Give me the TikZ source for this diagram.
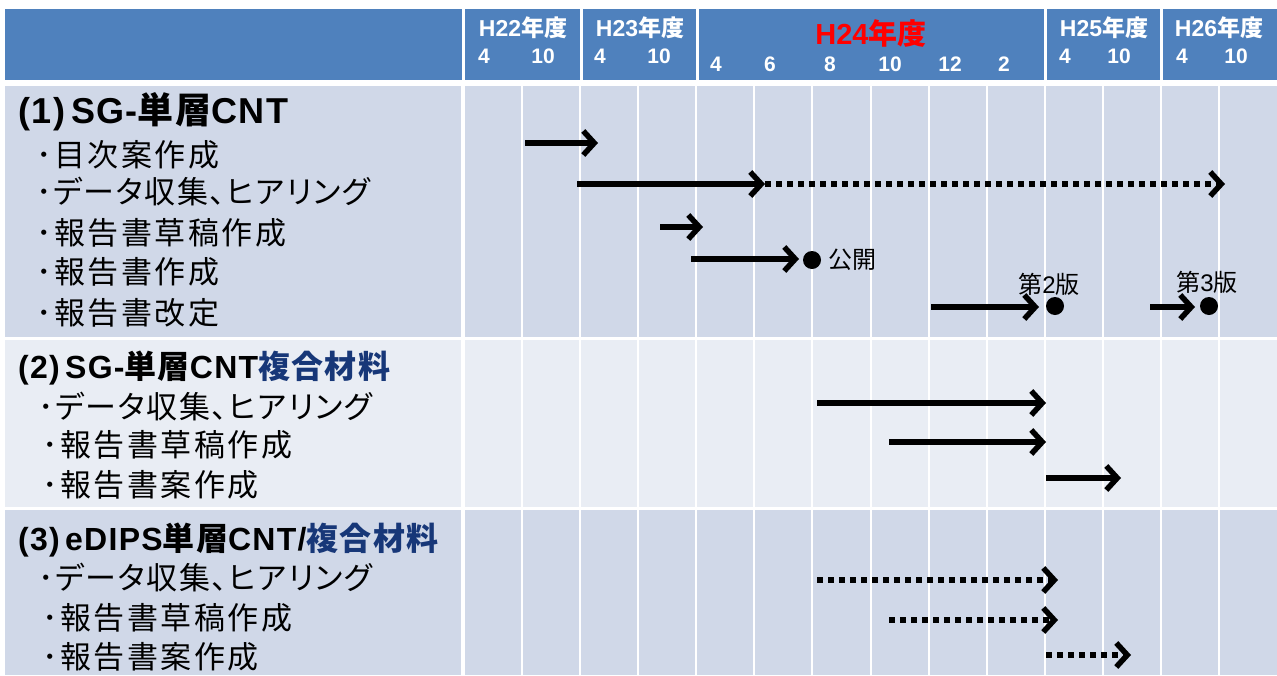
\documentclass[tikz,border=0pt]{standalone}
\usepackage{fontspec}
\usetikzlibrary{arrows.meta}
\newfontfamily\jp{Noto Sans CJK JP}
\newfontfamily\jpi[LetterSpace=8]{Noto Sans CJK JP}
\newfontfamily\jpk[LetterSpace=5,RawFeature=+palt]{Noto Sans CJK JP}
\newfontfamily\jpt[LetterSpace=4]{Noto Sans CJK JP}
\newfontfamily\lat{Liberation Sans}
\newfontfamily\latt[LetterSpace=4]{Liberation Sans}
\definecolor{hdr}{RGB}{79,129,189}
\definecolor{bandA}{RGB}{208,216,232}
\definecolor{bandB}{RGB}{233,237,244}
\definecolor{navy}{RGB}{23,55,120}
\begin{document}
\begin{tikzpicture}[x=1pt,y=-1pt,
  item/.style={anchor=west, inner sep=0pt, font=\jpi\fontsize{31}{33}\selectfont},
  ttl/.style={anchor=west, inner sep=0pt, font=\bfseries\fontsize{32}{34}\selectfont},
  hyear/.style={inner sep=0pt, text=white, font=\bfseries\fontsize{23}{25}\selectfont},
  hmonth/.style={inner sep=0pt, text=white, font=\lat\bfseries\fontsize{21}{23}\selectfont},
  bar/.style={line width=5.5pt, -{Straight Barb[length=11pt,width=24pt]}},
  dotbar/.style={bar, dash pattern=on 6pt off 5pt},
  mile/.style={circle, fill=black, minimum size=18pt, inner sep=0pt},
  mlabel/.style={inner sep=0pt, font=\fontsize{24}{26}\selectfont},
  grid/.style={white, line width=2pt}]
\useasboundingbox (0,0) rectangle (1277,675);
\fill[white] (0,0) rectangle (1277,675);
% header
\fill[hdr] (5,9) rectangle (1277,80);
\foreach \x in {463,581,697,1045,1161} \draw[white,line width=3pt] (\x,9) -- (\x,80);
% bands
\fill[bandA] (5,86) rectangle (1277,337);
\fill[bandB] (5,340) rectangle (1277,507);
\fill[bandA] (5,510) rectangle (1277,675);
\foreach \k in {0,...,13} \draw[grid] ({464+58.07*\k},86) -- ({464+58.07*\k},675);
\draw[white,line width=2.5pt] (462.5,86) -- (462.5,675);
% header texts
\node[hyear] (h22) at (523,28) {{\lat H22}{\jp 年度}};
\node[hmonth] (h22a) at (484,56) {4};
\node[hmonth] (h22b) at (543,56) {10};
\node[hyear] (h23) at (640,28) {{\lat H23}{\jp 年度}};
\node[hmonth] (h23a) at (600,56) {4};
\node[hmonth] (h23b) at (659,56) {10};
\node[inner sep=0pt, text=red, font=\bfseries\fontsize{29}{31}\selectfont] (h24) at (871,33) {{\lat H24}{\jp 年度}};
\node[hmonth] (m4) at (716,64) {4};
\node[hmonth] (m6) at (770,64) {6};
\node[hmonth] (m8) at (830,64) {8};
\node[hmonth] (m10) at (890,64) {10};
\node[hmonth] (m12) at (950,64) {12};
\node[hmonth] (m2) at (1004,64) {2};
\node[hyear] (h25) at (1104,28) {{\lat H25}{\jp 年度}};
\node[hmonth] (h25a) at (1065,56) {4};
\node[hmonth] (h25b) at (1119,56) {10};
\node[hyear] (h26) at (1219,28) {{\lat H26}{\jp 年度}};
\node[hmonth] (h26a) at (1182,56) {4};
\node[hmonth] (h26b) at (1236,56) {10};
% section 1
\node[ttl, font=\bfseries\fontsize{36}{38}\selectfont] (t1) at (18,112) {{\latt(1)\,SG-}{\jpt 単層}{\latt CNT}};
\node[item] (i11) at (36,155) {･目次案作成};
\node[item, font=\jpk\fontsize{31}{33}\selectfont] (i12) at (36,192) {･データ収集、ヒアリング};
\node[item] (i13) at (36,233) {･報告書草稿作成};
\node[item] (i14) at (36,272) {･報告書作成};
\node[item] (i15) at (36,313) {･報告書改定};
% section 2
\node[ttl] (t2) at (18,368) {{\latt(2)\,SG-}{\jpt 単層}{\latt CNT}{\jpt\color{navy}複合材料}};
\node[item, font=\jpk\fontsize{31}{33}\selectfont] (i21) at (38,407) {･データ収集、ヒアリング};
\node[item] (i22) at (42,445) {･報告書草稿作成};
\node[item] (i23) at (42,485) {･報告書案作成};
% section 3
\node[ttl] (t3) at (18,540) {{\latt(3)\,eDIPS}{\jpt 単層}{\latt CNT/}{\jpt\color{navy}複合材料}};
\node[item, font=\jpk\fontsize{31}{33}\selectfont] (i31) at (38,578) {･データ収集、ヒアリング};
\node[item] (i32) at (42,618) {･報告書草稿作成};
\node[item] (i33) at (42,657) {･報告書案作成};
% section 1 bars
\coordinate (a1s) at (525,143); \coordinate (a1e) at (598,143);
\coordinate (a2s) at (577,184); \coordinate (a2m) at (765,184); \coordinate (a2e) at (1225,184);
\coordinate (a3s) at (660,227); \coordinate (a3e) at (703,227);
\coordinate (a4s) at (691,259); \coordinate (a4e) at (799,259);
\coordinate (a5s) at (931,307); \coordinate (a5e) at (1039,307);
\coordinate (a6s) at (1150,307); \coordinate (a6e) at (1195,307);
\node[mile] (d1) at (812,260) {};
\node[mile] (d2) at (1055,306) {};
\node[mile] (d3) at (1209,306) {};
\node[mlabel, anchor=west] (l1) at (828,260) {{\jp 公開}};
\node[mlabel] (l2) at (1049,284) {{\jp 第}{\lat 2}{\jp 版}};
\node[mlabel] (l3) at (1207,282) {{\jp 第}{\lat 3}{\jp 版}};
\draw[bar] (a1s) -- (a1e);
\draw[bar] (a2s) -- (a2m);
\draw[dotbar] (a2m) -- (a2e);
\draw[bar] (a3s) -- (a3e);
\draw[bar] (a4s) -- (a4e);
\draw[bar] (a5s) -- (a5e);
\draw[bar] (a6s) -- (a6e);
% section 2 bars
\coordinate (b1s) at (817,403); \coordinate (b1e) at (1046,403);
\coordinate (b2s) at (889,442); \coordinate (b2e) at (1046,442);
\coordinate (b3s) at (1046,478); \coordinate (b3e) at (1121,478);
\draw[bar] (b1s) -- (b1e);
\draw[bar] (b2s) -- (b2e);
\draw[bar] (b3s) -- (b3e);
% section 3 bars
\coordinate (c1s) at (817,580); \coordinate (c1e) at (1058,580);
\coordinate (c2s) at (889,620); \coordinate (c2e) at (1058,620);
\coordinate (c3s) at (1046,655); \coordinate (c3e) at (1131,655);
\draw[dotbar] (c1s) -- (c1e);
\draw[dotbar] (c2s) -- (c2e);
\draw[dotbar] (c3s) -- (c3e);
\end{tikzpicture}
\end{document}
